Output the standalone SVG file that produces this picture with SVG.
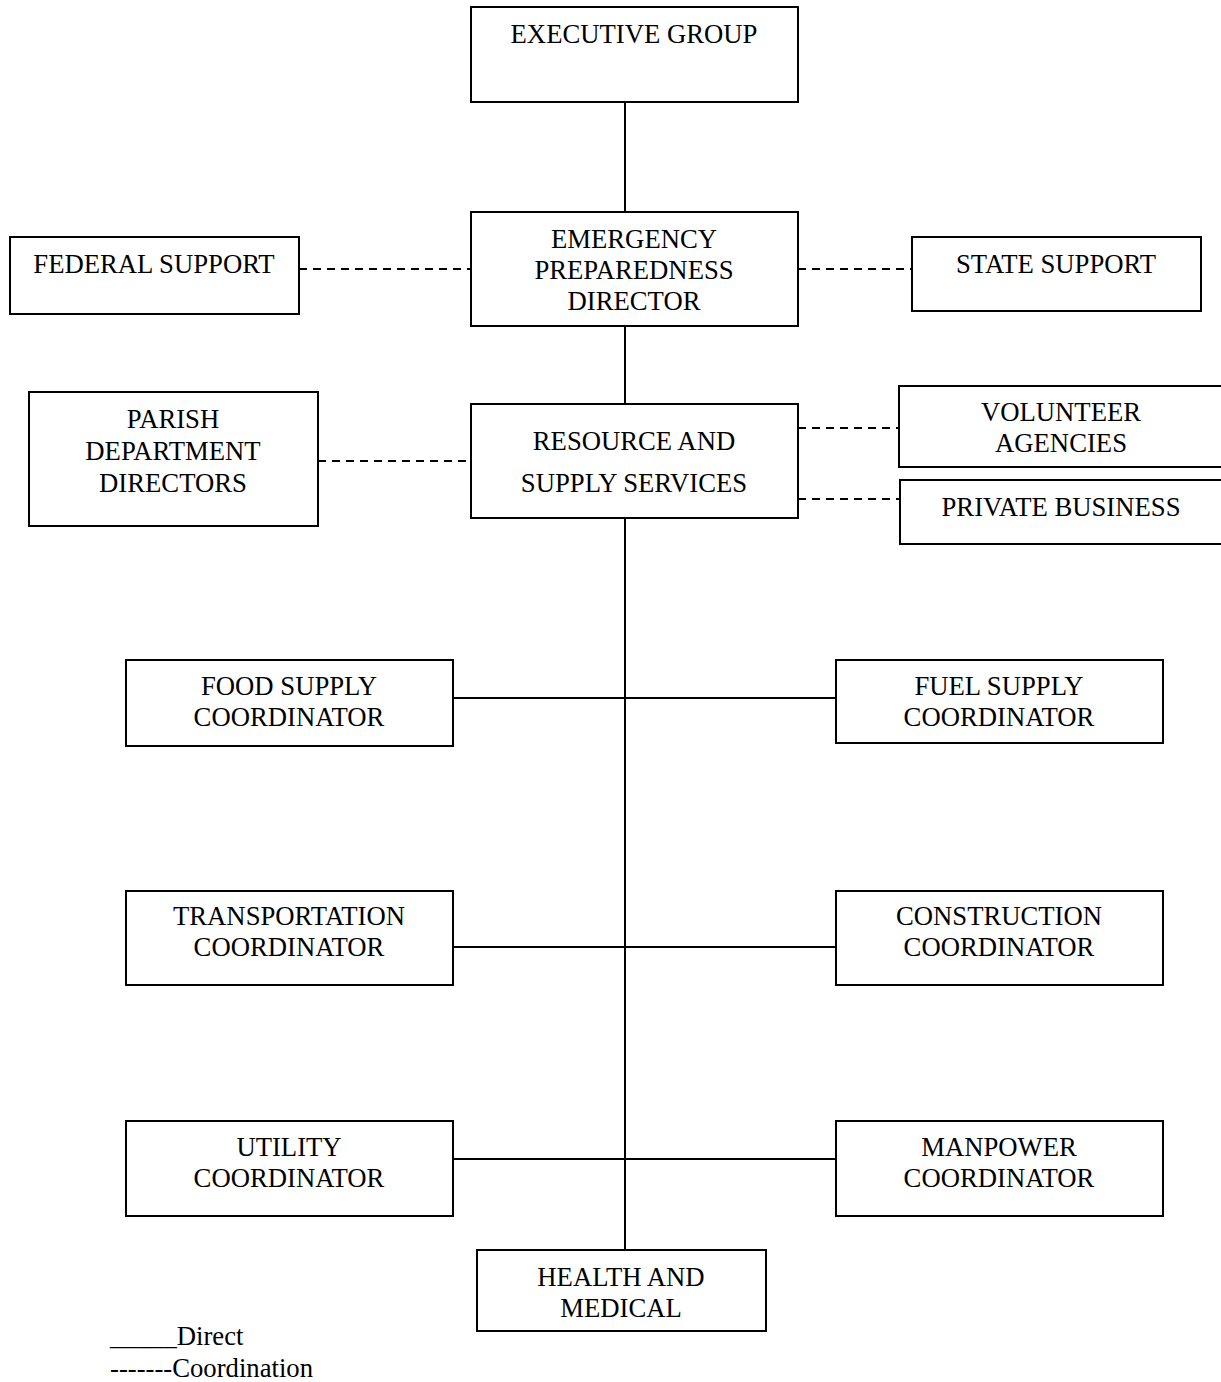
<svg xmlns="http://www.w3.org/2000/svg" width="1221" height="1382" viewBox="0 0 1221 1382">
<style>
.box{fill:#fff;stroke:#000;stroke-width:2}
.t{font-family:"Liberation Serif","Times New Roman",serif;font-size:26.7px;text-anchor:middle;fill:#000}
.lg{font-family:"Liberation Serif","Times New Roman",serif;font-size:26.7px;fill:#000}
.d{stroke:#000;stroke-width:2;fill:none}
.c{stroke:#000;stroke-width:2;fill:none;stroke-dasharray:8,6}
</style>
<rect width="1221" height="1382" fill="#fff"/>
<g id="connectors">
<line class="d" x1="625" y1="102" x2="625" y2="212"/>
<line class="d" x1="625" y1="326" x2="625" y2="404"/>
<line class="d" x1="625" y1="518" x2="625" y2="1250"/>
<line class="d" x1="453" y1="698" x2="836" y2="698"/>
<line class="d" x1="453" y1="947" x2="836" y2="947"/>
<line class="d" x1="453" y1="1159" x2="836" y2="1159"/>
<line class="c" x1="299" y1="269" x2="471" y2="269"/>
<line class="c" x1="798" y1="269" x2="912" y2="269"/>
<line class="c" x1="318" y1="461" x2="471" y2="461"/>
<line class="c" x1="798" y1="428" x2="900" y2="428"/>
<line class="c" x1="798" y1="499" x2="900" y2="499"/>
</g>
<g id="executive"><rect class="box" x="471" y="7" width="327" height="95"/><text class="t" x="634" y="43">EXECUTIVE GROUP</text></g>
<g id="epd"><rect class="box" x="471" y="212" width="327" height="114"/><text class="t" x="634" y="248">EMERGENCY</text><text class="t" x="634" y="279">PREPAREDNESS</text><text class="t" x="634" y="310">DIRECTOR</text></g>
<g id="federal"><rect class="box" x="10" y="237" width="289" height="77"/><text class="t" x="154" y="273">FEDERAL SUPPORT</text></g>
<g id="state"><rect class="box" x="912" y="237" width="289" height="74"/><text class="t" x="1056" y="273">STATE SUPPORT</text></g>
<g id="parish"><rect class="box" x="29" y="392" width="289" height="134"/><text class="t" x="173" y="428">PARISH</text><text class="t" x="173" y="460">DEPARTMENT</text><text class="t" x="173" y="492">DIRECTORS</text></g>
<g id="resource"><rect class="box" x="471" y="404" width="327" height="114"/><text class="t" x="634" y="450">RESOURCE AND</text><text class="t" x="634" y="492">SUPPLY SERVICES</text></g>
<g id="volunteer"><rect class="box" x="899" y="386" width="330" height="81"/><text class="t" x="1061" y="421">VOLUNTEER</text><text class="t" x="1061" y="452">AGENCIES</text></g>
<g id="private"><rect class="box" x="900" y="480" width="330" height="64"/><text class="t" x="1061" y="516">PRIVATE BUSINESS</text></g>
<g id="food"><rect class="box" x="126" y="660" width="327" height="86"/><text class="t" x="289" y="695">FOOD SUPPLY</text><text class="t" x="289" y="726">COORDINATOR</text></g>
<g id="fuel"><rect class="box" x="836" y="660" width="327" height="83"/><text class="t" x="999" y="695">FUEL SUPPLY</text><text class="t" x="999" y="726">COORDINATOR</text></g>
<g id="transport"><rect class="box" x="126" y="891" width="327" height="94"/><text class="t" x="289" y="925">TRANSPORTATION</text><text class="t" x="289" y="956">COORDINATOR</text></g>
<g id="construction"><rect class="box" x="836" y="891" width="327" height="94"/><text class="t" x="999" y="925">CONSTRUCTION</text><text class="t" x="999" y="956">COORDINATOR</text></g>
<g id="utility"><rect class="box" x="126" y="1121" width="327" height="95"/><text class="t" x="289" y="1156">UTILITY</text><text class="t" x="289" y="1187">COORDINATOR</text></g>
<g id="manpower"><rect class="box" x="836" y="1121" width="327" height="95"/><text class="t" x="999" y="1156">MANPOWER</text><text class="t" x="999" y="1187">COORDINATOR</text></g>
<g id="health"><rect class="box" x="477" y="1250" width="289" height="81"/><text class="t" x="621" y="1286">HEALTH AND</text><text class="t" x="621" y="1317">MEDICAL</text></g>
<g id="legend"><text class="lg" x="110" y="1345">_____Direct</text><text class="lg" x="110" y="1377">-------Coordination</text></g>
</svg>
